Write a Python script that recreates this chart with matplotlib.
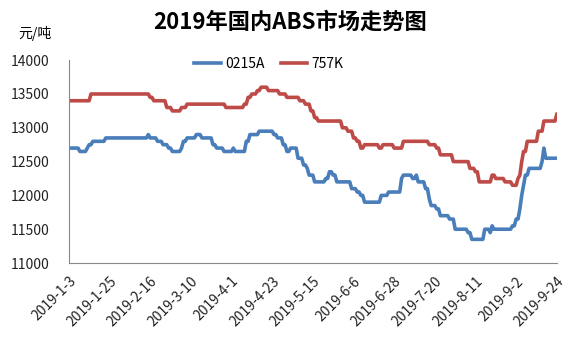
import pandas as pd
import matplotlib
matplotlib.use('Agg')
from matplotlib import pyplot as plt

plt.rcParams['font.family'] = ['Noto Sans CJK SC', 'DejaVu Sans']

# Price change points (date, price); price held until the next change
a_dates = ['2019-01-03', '2019-01-09', '2019-01-13', '2019-01-14', '2019-01-16', '2019-01-23',
           '2019-02-15', '2019-02-16', '2019-02-20', '2019-02-23', '2019-02-26', '2019-02-28',
           '2019-03-05', '2019-03-06', '2019-03-08', '2019-03-13', '2019-03-16', '2019-03-22',
           '2019-03-24', '2019-03-28', '2019-04-02', '2019-04-03', '2019-04-09', '2019-04-11',
           '2019-04-16', '2019-04-24', '2019-04-26', '2019-04-29', '2019-05-01', '2019-05-03',
           '2019-05-07', '2019-05-10', '2019-05-12', '2019-05-13', '2019-05-16', '2019-05-22',
           '2019-05-24', '2019-05-26', '2019-05-28', '2019-06-05', '2019-06-08', '2019-06-10',
           '2019-06-12', '2019-06-21', '2019-06-25', '2019-07-02', '2019-07-03', '2019-07-08',
           '2019-07-10', '2019-07-11', '2019-07-15', '2019-07-17', '2019-07-18', '2019-07-21',
           '2019-07-23', '2019-07-28', '2019-07-31', '2019-08-07', '2019-08-09', '2019-08-16',
           '2019-08-19', '2019-08-20', '2019-08-21', '2019-08-31', '2019-09-02', '2019-09-04',
           '2019-09-05', '2019-09-06', '2019-09-07', '2019-09-09', '2019-09-16', '2019-09-17',
           '2019-09-18', '2019-09-24']
a_values = [12700, 12650, 12700, 12750, 12800, 12850,
            12900, 12850, 12800, 12750, 12700, 12650,
            12700, 12800, 12850, 12900, 12850, 12750,
            12700, 12650, 12700, 12650, 12800, 12900,
            12950, 12900, 12850, 12750, 12650, 12700,
            12550, 12450, 12400, 12300, 12200, 12250,
            12350, 12300, 12200, 12100, 12050, 12000,
            11900, 12000, 12050, 12250, 12300, 12250,
            12300, 12200, 12100, 11950, 11850, 11800,
            11700, 11650, 11500, 11450, 11350, 11500,
            11450, 11550, 11500, 11550, 11650, 11800,
            12000, 12150, 12300, 12400, 12500, 12700,
            12550, 12550]

k_dates = ['2019-01-03', '2019-01-15', '2019-02-16', '2019-02-18', '2019-02-25', '2019-02-28',
           '2019-03-05', '2019-03-08', '2019-03-29', '2019-04-08', '2019-04-10', '2019-04-12',
           '2019-04-15', '2019-04-17', '2019-04-21', '2019-04-27', '2019-05-01', '2019-05-08',
           '2019-05-11', '2019-05-14', '2019-05-16', '2019-05-18', '2019-05-31', '2019-06-03',
           '2019-06-06', '2019-06-08', '2019-06-10', '2019-06-12', '2019-06-20', '2019-06-22',
           '2019-06-28', '2019-07-03', '2019-07-17', '2019-07-21', '2019-07-23', '2019-07-30',
           '2019-08-08', '2019-08-11', '2019-08-13', '2019-08-20', '2019-08-22', '2019-08-27',
           '2019-08-31', '2019-09-03', '2019-09-04', '2019-09-05', '2019-09-06', '2019-09-08',
           '2019-09-14', '2019-09-17', '2019-09-24']
k_values = [13400, 13500, 13450, 13400, 13300, 13250,
            13300, 13350, 13300, 13350, 13450, 13500,
            13550, 13600, 13550, 13500, 13450, 13400,
            13350, 13250, 13150, 13100, 13000, 12950,
            12850, 12800, 12700, 12750, 12700, 12750,
            12700, 12800, 12750, 12700, 12600, 12500,
            12400, 12350, 12200, 12300, 12250, 12200,
            12150, 12250, 12300, 12500, 12650, 12800,
            12950, 13100, 13200]

tick_labels = ['2019-1-3', '2019-1-25', '2019-2-16', '2019-3-10', '2019-4-1', '2019-4-23',
               '2019-5-15', '2019-6-6', '2019-6-28', '2019-7-20', '2019-8-11', '2019-9-2',
               '2019-9-24']

days = pd.date_range('2019-01-03', '2019-09-24', freq='D')


def daily(dates, values):
    s = pd.Series(values, index=pd.to_datetime(dates))
    return s.reindex(days).ffill()


s_a = daily(a_dates, a_values)
s_k = daily(k_dates, k_values)

fig = plt.figure(figsize=(5.88, 3.54), dpi=100)
ax = fig.add_axes([0.117, 0.257, 0.83, 0.573])

ax.plot(s_a.index, s_a.values, color='#4A7EBB', lw=2.6, label='0215A')
ax.plot(s_k.index, s_k.values, color='#BE4B48', lw=2.6, label='757K')

ax.set_xlim(days[0], days[-1])
ax.set_ylim(11000, 14000)
ax.set_yticks(range(11000, 14001, 500))
ax.set_xticks(pd.to_datetime(['2019-' + t[5:] for t in tick_labels]))
ax.set_xticklabels(tick_labels, rotation=45, ha='right', rotation_mode='anchor')
ax.tick_params(axis='both', length=0, labelsize=10, colors='#222222')
ax.tick_params(axis='x', pad=8)
ax.tick_params(axis='y', pad=14)

for side in ['top', 'right']:
    ax.spines[side].set_visible(False)
for side in ['left', 'bottom']:
    ax.spines[side].set_color('#888888')
    ax.spines[side].set_linewidth(0.8)

fig.text(0.493, 0.937, '2019年国内ABS市场走势图', ha='center', va='center',
         fontsize=16, fontweight='bold')
fig.text(0.06, 0.905, '元/吨', ha='center', va='center', fontsize=10)
ax.legend(loc='center', bbox_to_anchor=(0.41, 0.98), ncol=2, frameon=False,
          fontsize=10, handlelength=1.9, columnspacing=1.2, handletextpad=0.3)

fig.savefig('out.png', dpi=100)
